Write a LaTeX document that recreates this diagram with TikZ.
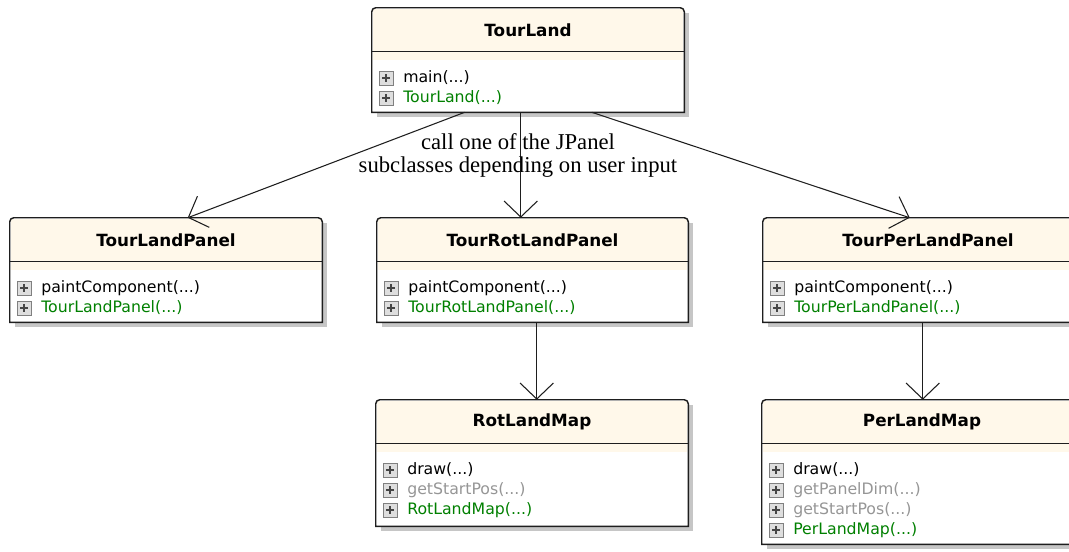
\documentclass[tikz,border=0pt]{standalone}
\usepackage{fontspec}
\setmainfont{Liberation Serif}
\setsansfont{DejaVu Sans}
\usepackage{tikz}
\usetikzlibrary{arrows.meta,positioning,fit,calc}
\definecolor{HeadCream}{RGB}{255,248,234}
\definecolor{ShadowGray}{RGB}{198,198,198}
\definecolor{CtorGreen}{RGB}{0,128,0}
\definecolor{PrivGray}{RGB}{150,150,150}
\definecolor{IconGray}{RGB}{128,128,128}
\definecolor{IconFill}{RGB}{222,222,222}
\definecolor{IconDark}{RGB}{70,70,70}
\definecolor{LineDark}{RGB}{30,30,30}

% collapsed argument list of a member
\newcommand{\margs}{(...)}

% header band, rule and frame of a class box
\newcommand{\classdeco}[1]{%
  \fill[HeadCream] ([xshift=1pt,yshift=-1pt]#1.north west) rectangle ([xshift=-1pt,yshift=-39pt]#1.north east);
  \draw[headrule] ([yshift=-33pt]#1.north west) -- ([yshift=-33pt]#1.north east);
  \draw[frame] (#1.south west) [rounded corners=3pt] -- (#1.north west) -- (#1.north east) [sharp corners] -- (#1.south east) -- cycle;
}

\tikzset{
  plusicon/.pic={
    \draw[IconGray, fill=IconFill, line width=0.75pt] (-7,-7) rectangle (7,7);
    \draw[IconDark, line width=1.6pt] (-4,0) -- (4,0) (0,-4) -- (0,4);
  }
}

\begin{document}
\begin{tikzpicture}[
  x=0.75pt, y=-0.75pt,
  classbox/.style={
    inner sep=0pt,
    fill=white,
    preaction={fill=ShadowGray, transform canvas={shift={(3.75pt,-3.75pt)}}}
  },
  frame/.style={draw=LineDark, line width=1.1pt},
  headrule/.style={draw=LineDark, line width=0.9pt},
  classtitle/.style={font=\sffamily\bfseries\fontsize{12.6}{15}\selectfont},
  member/.style={anchor=west, inner sep=0pt, font=\sffamily\fontsize{11.8}{14}\selectfont},
  arr/.style={-{Straight Barb[length=12pt,width=25pt]}, draw=LineDark, line width=0.8pt},
  note/.style={align=center, font=\fontsize{17}{17.25}\selectfont}
]
\useasboundingbox (0,0) rectangle (1069,551);

% TourLand
\node[classbox, fit={(372,8) (684,112)}] (tourland) {};
\classdeco{tourland}
\node[classtitle] (tourland-title) at (528,30) {TourLand};
\foreach \txt/\col [count=\i] in {main/black, TourLand/CtorGreen}{
  \pic at (386,58+20*\i) {plusicon};
  \node[member, text=\col] (tourland-m\i) at (403,58+20*\i) {\txt\margs};
}

% TourLandPanel
\node[classbox, fit={(10,218) (322,322)}] (tlp) {};
\classdeco{tlp}
\node[classtitle] (tlp-title) at (166,240) {TourLandPanel};
\foreach \txt/\col [count=\i] in {paintComponent/black, TourLandPanel/CtorGreen}{
  \pic at (24,268+20*\i) {plusicon};
  \node[member, text=\col] (tlp-m\i) at (41,268+20*\i) {\txt\margs};
}

% TourRotLandPanel
\node[classbox, fit={(377,218) (688,322)}] (trlp) {};
\classdeco{trlp}
\node[classtitle] (trlp-title) at (532.5,240) {TourRotLandPanel};
\foreach \txt/\col [count=\i] in {paintComponent/black, TourRotLandPanel/CtorGreen}{
  \pic at (391,268+20*\i) {plusicon};
  \node[member, text=\col] (trlp-m\i) at (408,268+20*\i) {\txt\margs};
}

% TourPerLandPanel
\node[classbox, fit={(763,218) (1093,322)}] (tplp) {};
\classdeco{tplp}
\node[classtitle] (tplp-title) at (928,240) {TourPerLandPanel};
\foreach \txt/\col [count=\i] in {paintComponent/black, TourPerLandPanel/CtorGreen}{
  \pic at (777,268+20*\i) {plusicon};
  \node[member, text=\col] (tplp-m\i) at (794,268+20*\i) {\txt\margs};
}

% RotLandMap
\node[classbox, fit={(376,400) (688,526)}] (rlm) {};
\classdeco{rlm}
\node[classtitle] (rlm-title) at (532,422) {RotLandMap};
\foreach \txt/\col [count=\i] in {draw/black, getStartPos/PrivGray, RotLandMap/CtorGreen}{
  \pic at (390,450+20*\i) {plusicon};
  \node[member, text=\col] (rlm-m\i) at (407,450+20*\i) {\txt\margs};
}

% PerLandMap
\node[classbox, fit={(762,400) (1082,544)}] (plm) {};
\classdeco{plm}
\node[classtitle] (plm-title) at (922,422) {PerLandMap};
\foreach \txt/\col [count=\i] in {draw/black, getPanelDim/PrivGray, getStartPos/PrivGray, PerLandMap/CtorGreen}{
  \pic at (776,450+20*\i) {plusicon};
  \node[member, text=\col] (plm-m\i) at (793,450+20*\i) {\txt\margs};
}

\draw[arr] ($(tourland.south west)+(93,0)$) -- ($(tlp.north west)+(178,0)$);
\draw[arr] ($(tourland.south west)+(149,0)$) -- ($(trlp.north west)+(144,0)$);
\draw[arr] ($(tourland.south west)+(220,0)$) -- ($(tplp.north west)+(147,0)$);
\draw[arr] ($(trlp.south west)+(160,0)$) -- ($(rlm.north west)+(161,0)$);
\draw[arr] ($(tplp.south west)+(160,0)$) -- ($(plm.north west)+(161,0)$);

\node[note] (calllabel) at (518,155) {call one of the JPanel\\subclasses depending on user input};
\end{tikzpicture}
\end{document}
